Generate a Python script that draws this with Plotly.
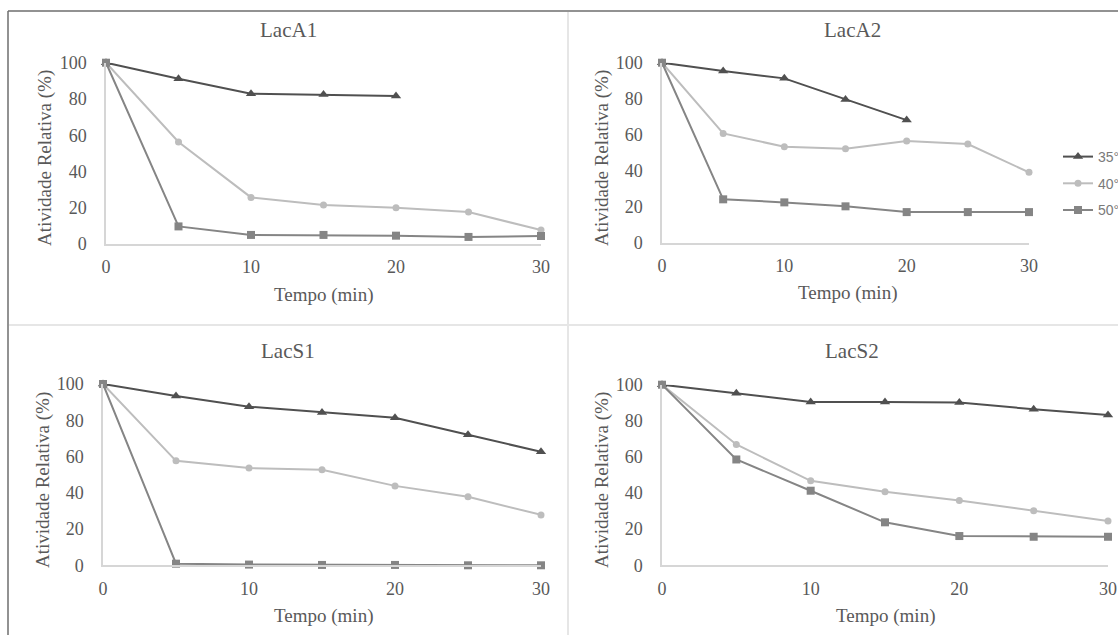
import plotly.graph_objects as go

W, H = 1118, 635

# Sampling times (min)
tempo = [0, 5, 10, 15, 20, 25, 30]

# Relative activity (%) per enzyme and temperature
laca1_35 = [100, 91.2, 82.9, 82.4, 81.6]
laca1_40 = [100, 56.3, 25.7, 21.5, 20.0, 17.6, 7.7]
laca1_50 = [100, 9.7, 5.0, 5.0, 4.6, 3.9, 4.4]

laca2_35 = [100, 95.4, 91.3, 79.6, 68.1]
laca2_40 = [100, 60.7, 53.3, 52.2, 56.5, 54.8, 39.1]
laca2_50 = [100, 24.1, 22.4, 20.2, 17.0, 17.0, 17.0]

lacs1_35 = [100, 93.4, 87.5, 84.3, 81.4, 72.0, 62.6]
lacs1_40 = [100, 57.6, 53.6, 52.7, 43.8, 37.8, 27.8]
lacs1_50 = [100, 0.9, 0.4, 0.2, 0.2, 0.0, 0.0]

lacs2_35 = [100, 95.2, 90.4, 90.4, 90.1, 86.4, 83.2]
lacs2_40 = [100, 66.9, 46.8, 40.7, 35.9, 30.2, 24.5]
lacs2_50 = [100, 58.6, 41.3, 23.8, 16.2, 15.8, 15.8]

panel_titles = ["LacA1", "LacA2", "LacS1", "LacS2"]
series_names = ["35°C", "40°C", "50°C"]
x_ticks = [0, 10, 20, 30]
y_ticks = [0, 20, 40, 60, 80, 100]

panels = [
    (laca1_35, laca1_40, laca1_50),
    (laca2_35, laca2_40, laca2_50),
    (lacs1_35, lacs1_40, lacs1_50),
    (lacs2_35, lacs2_40, lacs2_50),
]

# Styling per temperature
colors = ["#505050", "#bdbdbd", "#858585"]
symbols = ["triangle-up", "circle", "square"]
msizes = [9, 7, 8]

SERIF = "Liberation Serif, Times New Roman, serif"
TXT = "#595959"

# Plot-area boxes in pixels: (left, right, top, bottom)
boxes = [
    (106, 541, 62.7, 244.0),
    (662, 1029, 62.7, 242.7),
    (103, 541, 384.0, 565.3),
    (662, 1108, 384.7, 565.3),
]


def px(x):
    return x / W


def py(y):
    return 1 - y / H


fig = go.Figure()

for i, (series, box) in enumerate(zip(panels, boxes)):
    n = i + 1
    xa = "x" if n == 1 else f"x{n}"
    ya = "y" if n == 1 else f"y{n}"
    for j, vals in enumerate(series):
        fig.add_trace(go.Scatter(
            x=tempo[:len(vals)], y=vals,
            mode="lines+markers",
            name=series_names[j],
            legendgroup=series_names[j],
            showlegend=(n == 2),
            line=dict(color=colors[j], width=2),
            marker=dict(symbol=symbols[j], size=msizes[j], color=colors[j]),
            cliponaxis=False,
            xaxis=xa, yaxis=ya,
        ))
    l, r, t, b = box
    axis_common = dict(
        showgrid=False, zeroline=False, showline=True,
        linecolor="#d6d6d6", linewidth=1.5,
        ticks="", tickfont=dict(family=SERIF, size=18, color=TXT),
        fixedrange=True,
    )
    fig.layout[f"xaxis{'' if n == 1 else n}"] = dict(
        domain=[px(l), px(r)], range=[0, 30], anchor=ya,
        tickvals=x_ticks, ticklabelstandoff=6, **axis_common)
    fig.layout[f"yaxis{'' if n == 1 else n}"] = dict(
        domain=[py(b), py(t)], range=[0, 100], anchor=xa,
        tickvals=y_ticks, ticklabelstandoff=14, **axis_common)

annotations = []
# Panel titles
for title, (cx, cy) in zip(panel_titles, [(289, 30), (852, 30), (288, 351), (852, 351)]):
    annotations.append(dict(text=title, x=px(cx), y=py(cy), xref="paper", yref="paper",
                            showarrow=False, xanchor="center", yanchor="middle",
                            font=dict(family=SERIF, size=21, color=TXT)))
# Axis titles
for (cx, cy) in [(45, 158), (602, 158), (43, 480), (602, 480)]:
    annotations.append(dict(text="Atividade Relativa (%)", x=px(cx), y=py(cy),
                            xref="paper", yref="paper", showarrow=False, textangle=-90,
                            xanchor="center", yanchor="middle",
                            font=dict(family=SERIF, size=19, color=TXT)))
for (cx, cy) in [(323, 295), (847, 293), (323, 616), (885, 616)]:
    annotations.append(dict(text="Tempo (min)", x=px(cx), y=py(cy),
                            xref="paper", yref="paper", showarrow=False,
                            xanchor="center", yanchor="middle",
                            font=dict(family=SERIF, size=19, color=TXT)))

# Frame lines around and between the four charts
shapes = [
    dict(type="line", x0=px(8), x1=1, y0=py(11), y1=py(11), xref="paper", yref="paper",
         line=dict(color="#6e6e6e", width=1.5)),
    dict(type="line", x0=px(8), x1=px(8), y0=py(11), y1=0, xref="paper", yref="paper",
         line=dict(color="#6e6e6e", width=1.5)),
    dict(type="line", x0=px(9), x1=1, y0=py(325), y1=py(325), xref="paper", yref="paper",
         line=dict(color="#e6e6e6", width=2)),
    dict(type="line", x0=px(568), x1=px(568), y0=py(12), y1=0, xref="paper", yref="paper",
         line=dict(color="#e6e6e6", width=2)),
]

fig.update_layout(
    width=W, height=H,
    margin=dict(l=0, r=0, t=0, b=0, pad=0, autoexpand=False),
    paper_bgcolor="white", plot_bgcolor="white",
    annotations=annotations, shapes=shapes,
    showlegend=True,
    legend=dict(x=px(1058), y=py(141), xanchor="left", yanchor="top",
                font=dict(family="Liberation Sans, Arial, sans-serif", size=14, color="#7a7a7a"),
                bgcolor="rgba(0,0,0,0)", tracegroupgap=5.5, itemwidth=30,
                traceorder="grouped"),
)

fig.write_html("out.html")
